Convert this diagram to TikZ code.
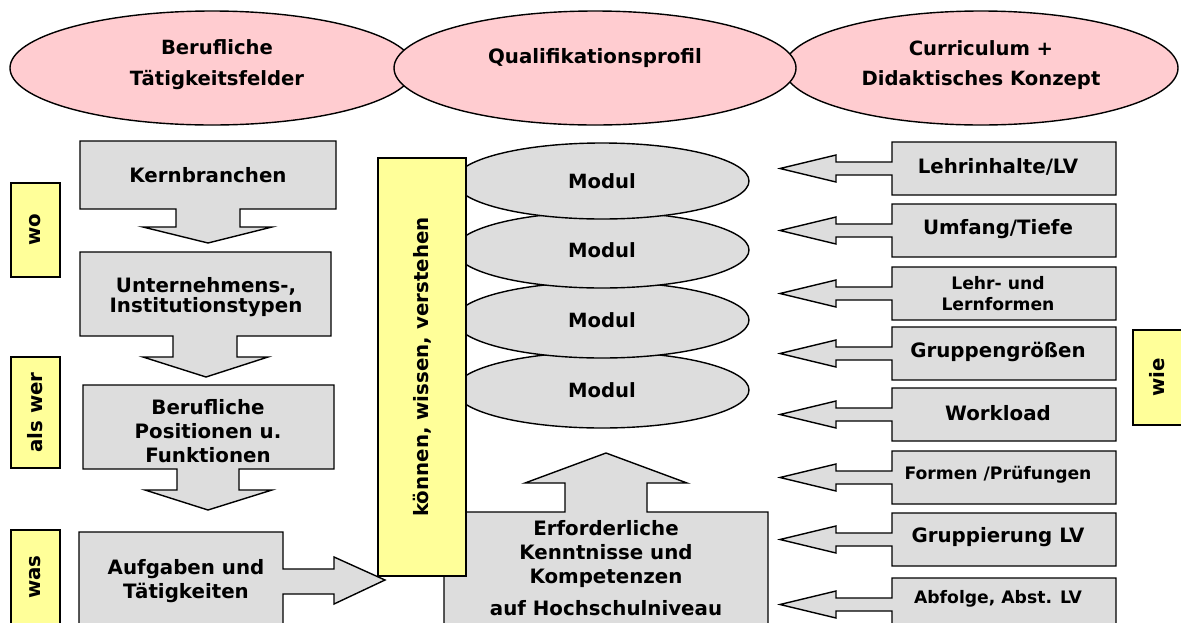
\documentclass[tikz,border=0pt]{standalone}
\usepackage{fontspec}
\setmainfont{DejaVu Sans}
\usetikzlibrary{shapes.geometric}
\definecolor{rosa}{RGB}{255,204,208}
\definecolor{hellgrau}{RGB}{221,221,221}
\definecolor{gelb}{RGB}{255,255,153}
\begin{document}
\begin{tikzpicture}[x=1pt, y=-1pt, line width=1.4pt,
    oval/.style={ellipse, draw, fill=rosa, minimum width=#1, minimum height=114pt, inner sep=0pt},
    modul/.style={ellipse, draw, fill=hellgrau, minimum width=294pt, minimum height=76pt, inner sep=0pt, font=\bfseries\fontsize{19.6}{22}\selectfont},
    block/.style={draw, fill=hellgrau},
    gelbbox/.style={draw, fill=gelb, rotate=90, inner sep=0pt, font=\bfseries\fontsize{19.8}{22}\selectfont},
    txt/.style={align=center, font=\bfseries\fontsize{19.8}{24}\selectfont},
    rtxt/.style={align=center, font=\bfseries\fontsize{19.8}{22}\selectfont},
    kleintxt/.style={align=center, font=\bfseries\fontsize{17.2}{21}\selectfont}]
    \clip (0,0) rectangle (1181,622);

    % Ellipsen oben
    \node (feld) at (212,68) [oval=404pt] {};
    \node (curr) at (981,68) [oval=394pt] {};
    \node (prof) at (595,68) [oval=402pt] {};
    \node (feldtxt) at (217,65) [txt, font=\bfseries\fontsize{19.6}{31}\selectfont] {Berufliche\\Tätigkeitsfelder};
    \node (proftxt) at (595,58) [rtxt] {Qualifikationsprofil};
    \node (currtxt) at (981,65) [txt, font=\bfseries\fontsize{19.6}{30}\selectfont] {Curriculum +\\Didaktisches Konzept};

    % linke Spalte
    \node (wo) at (35.5,230) [gelbbox, minimum width=94pt, minimum height=49pt] {wo};
    \node (alswer) at (35.5,412.5) [gelbbox, minimum width=111pt, minimum height=49pt] {als wer};
    \node (was) at (35.5,577) [gelbbox, minimum width=94pt, minimum height=49pt] {was};

    \draw[block] (80,141) -- (336,141) -- (336,209) -- (240,209) -- (240,227) -- (272,227) -- (208,243) -- (143,227) -- (176,227) -- (176,209) -- (80,209) -- cycle;
    \node (kern) at (208,175) [txt] {Kernbranchen};

    \draw[block] (80,252) -- (331,252) -- (331,336) -- (237,336) -- (237,357) -- (268,357) -- (206,377) -- (143,357) -- (173,357) -- (173,336) -- (80,336) -- cycle;
    \node (typen) at (206,297) [txt, font=\bfseries\fontsize{19.8}{20}\selectfont] {Unternehmens-,\\Institutionstypen};

    \draw[block] (83,385) -- (334,385) -- (334,469) -- (239,469) -- (239,490) -- (272,490) -- (208,510) -- (145,490) -- (177,490) -- (177,469) -- (83,469) -- cycle;
    \node (pos) at (208,431) [txt] {Berufliche\\Positionen u.\\Funktionen};

    \draw[block] (79,532) -- (283,532) -- (283,569) -- (334,569) -- (334,557) -- (385,580) -- (334,604) -- (334,594) -- (283,594) -- (283,640) -- (79,640) -- cycle;
    \node (aufg) at (186,581) [txt] {Aufgaben und\\Tätigkeiten};

    % Module, unterstes zuerst
    \node (mod4) at (602,390) [modul] {Modul};
    \node (mod3) at (602,320) [modul] {Modul};
    \node (mod2) at (602,250) [modul] {Modul};
    \node (mod1) at (602,181) [modul] {Modul};

    \draw[block] (444,640) -- (444,512) -- (565,512) -- (565,483) -- (525,483) -- (606,453) -- (687,483) -- (647,483) -- (647,512) -- (768,512) -- (768,640) -- cycle;
    \node (kenn) at (606,568) [txt] {Erforderliche\\Kenntnisse und\\Kompetenzen\\[8pt]auf Hochschulniveau};

    \node (kws) at (422,367) [gelbbox, minimum width=418pt, minimum height=88pt] {können, wissen, verstehen};

    % rechte Spalte
    \foreach \t in {142,204,267,327,388,451,513,578}
        \draw[block] (892,\t) -- (1116,\t) -- (1116,\t+53) -- (892,\t+53) -- (892,\t+33) -- (836,\t+33) -- (836,\t+40) -- (780,\t+26.5) -- (836,\t+13) -- (836,\t+20) -- (892,\t+20) -- cycle;
    \node (r1) at (998,167) [rtxt] {Lehrinhalte/LV};
    \node (r2) at (998,229) [rtxt] {Umfang/Tiefe};
    \node (r3) at (998,294) [kleintxt] {Lehr- und\\Lernformen};
    \node (r4) at (998,352) [rtxt] {Gruppengrößen};
    \node (r5) at (998,413) [rtxt] {Workload};
    \node (r6) at (998,475) [kleintxt] {Formen /Prüfungen};
    \node (r7) at (998,537) [rtxt] {Gruppierung LV};
    \node (r8) at (998,599) [kleintxt] {Abfolge, Abst. LV};

    \node (wie) at (1157.5,377.5) [gelbbox, minimum width=95pt, minimum height=49pt] {wie};
\end{tikzpicture}
\end{document}
